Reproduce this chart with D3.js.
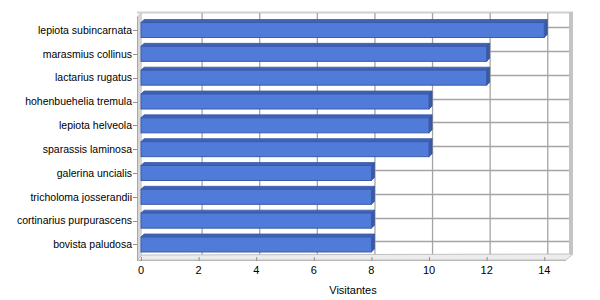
<!DOCTYPE html>
<html><head><meta charset="utf-8">
<script src="https://cdn.jsdelivr.net/npm/d3@7/dist/d3.min.js"></script>
<style>body{margin:0;background:#fff}svg{display:block}text{font-family:"Liberation Sans",Arial,sans-serif;font-size:11px;fill:#000}text.cat{font-size:10.5px}</style>
</head><body><svg id="c" width="600" height="300"></svg>
<script>
const categories = ["lepiota subincarnata","marasmius collinus","lactarius rugatus","hohenbuehelia tremula","lepiota helveola","sparassis laminosa","galerina uncialis","tricholoma josserandii","cortinarius purpurascens","bovista paludosa"];
const values = [14,12,12,10,10,10,8,8,8,8];
const xTicks = [0,2,4,6,8,10,12,14];
const xTitle = "Visitantes";

(function(){
const svg = d3.select("#c");
const D = 3;   // bar / grid depth
const W = 5;   // wall depth
const x = d3.scaleLinear().domain([0,14.72]).range([141,565]);
const y = d3.scaleBand().domain(categories).range([18.1,256.4]);
const cy = c => y(c) + y.bandwidth()/2;
const yTop = 12, yBot = 260;
const x0 = x(0), x1 = x(14.72);

// left wall
svg.append("path").attr("d",`M${x0-4},${yBot} L${x0-4+W},${yBot-W} L${x0-4+W},${yTop} L${x0-4},${yTop+W} Z`).attr("fill","#d6d6d6");
// back wall
svg.append("rect").attr("x",x0+1).attr("y",yTop).attr("width",x1+W+1-(x0+1)).attr("height",yBot-W-yTop).attr("fill","#fff");
// top edge
svg.append("line").attr("x1",x0-4).attr("x2",x1+W+3).attr("y1",yTop+0.5).attr("y2",yTop+0.5).attr("stroke","#d0d0d0").attr("stroke-width",2);
svg.append("line").attr("x1",x0-4).attr("y1",yTop+W+0.5).attr("x2",x0+1).attr("y2",yTop+0.5).attr("stroke","#d0d0d0").attr("stroke-width",1.5);
// right wall
svg.append("rect").attr("x",x1+W-1).attr("y",yTop).attr("width",4).attr("height",yBot-W-yTop-1).attr("fill","#c4c4c4");

// gridlines
const g = svg.append("g").attr("stroke","#a4a4a4").attr("stroke-width",1.3);
xTicks.slice(1).forEach(t=>{
  g.append("line").attr("x1",x(t)+D+0.5).attr("x2",x(t)+D+0.5).attr("y1",yTop+1).attr("y2",yBot-W);
});
categories.forEach(c=>{
  g.append("line").attr("x1",x0+1).attr("x2",x1+W-1).attr("y1",Math.round(cy(c)-D)+0.5).attr("y2",Math.round(cy(c)-D)+0.5);
});

// floor
svg.append("path").attr("d",`M${x0-4},${yBot} L${x0-4+W},${yBot-W} L${x1+W+3},${yBot-W-1} L${x1+1},${yBot} Z`).attr("fill","#ececec").attr("stroke","#c0c0c0").attr("stroke-width",1);
svg.append("line").attr("x1",x0-4).attr("x2",x1+1).attr("y1",yBot+0.5).attr("y2",yBot+0.5).attr("stroke","#b8b8b8");

// bars
const bh = 15;
const bars = svg.append("g");
categories.forEach((c,i)=>{
  const v = values[i];
  const ya = cy(c) - bh/2, yb = cy(c) + bh/2;
  const xa = x(0), xb = x(v);
  bars.append("path").attr("d",`M${xa},${ya} L${xa+D},${ya-D} L${xb+D},${ya-D} L${xb},${ya} Z`).attr("fill","#3f62b8").attr("stroke","#3b5ba8").attr("stroke-width",0.8);
  bars.append("path").attr("d",`M${xb},${ya} L${xb+D},${ya-D} L${xb+D},${yb-D} L${xb},${yb} Z`).attr("fill","#3a59a6").attr("stroke","#34509a").attr("stroke-width",0.8);
  bars.append("rect").attr("x",xa).attr("y",ya).attr("width",xb-xa).attr("height",bh).attr("fill","#507bd8").attr("stroke","#3b5ba8").attr("stroke-width",1);
});

// left axis
svg.append("line").attr("x1",x0-3.5).attr("x2",x0-3.5).attr("y1",yTop+W).attr("y2",yBot+1).attr("stroke","#a8a8a8");
categories.forEach(c=>{
  svg.append("line").attr("x1",x0-8).attr("x2",x0-4).attr("y1",Math.round(cy(c))+0.5).attr("y2",Math.round(cy(c))+0.5).attr("stroke","#909090");
  svg.append("text").attr("class","cat").attr("x",x0-9).attr("y",cy(c)).attr("dy","0.35em").attr("text-anchor","end").text(c);
});
// bottom axis
xTicks.forEach(t=>{
  svg.append("line").attr("x1",x(t)+0.5).attr("x2",x(t)+0.5).attr("y1",yBot-3).attr("y2",yBot+1).attr("stroke","#909090");
  svg.append("text").attr("x",x(t)).attr("y",274).attr("text-anchor","middle").text(t);
});
svg.append("text").attr("x",(x0+x1)/2).attr("y",294).attr("text-anchor","middle").text(xTitle);
})();
</script></body></html>
